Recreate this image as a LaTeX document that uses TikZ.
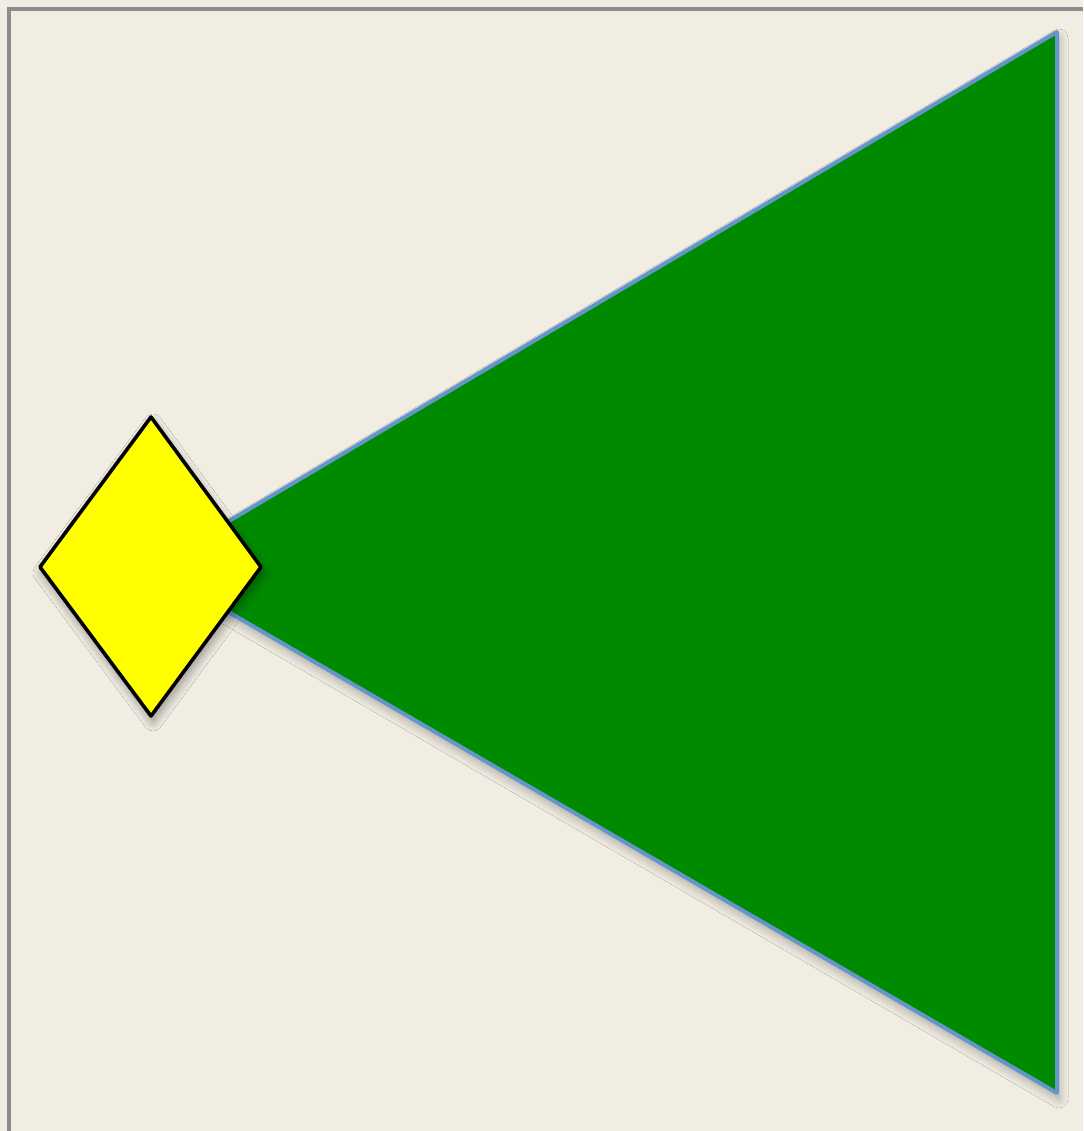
\documentclass[tikz,border=0pt]{standalone}
\usetikzlibrary{shadows.blur}
\definecolor{bg}{HTML}{F1EDE3}
\definecolor{frame}{HTML}{8C8C8C}
\definecolor{tri}{HTML}{008A00}
\definecolor{triedge}{HTML}{6496CC}
\definecolor{dia}{HTML}{FFFF00}
\tikzset{
  tristyle/.style={fill=tri, draw=triedge, line width=4pt, line join=round,
    blur shadow={shadow xshift=2pt, shadow yshift=-6pt, shadow blur steps=12, shadow opacity=30, shadow blur radius=9pt}},
  diastyle/.style={fill=dia, draw=black, line width=3.6pt, line join=round,
    blur shadow={shadow xshift=2pt, shadow yshift=-6pt, shadow blur steps=12, shadow opacity=40, shadow blur radius=9pt}}
}
\begin{document}
\begin{tikzpicture}[x=1pt,y=-1pt]
\fill[bg] (0,0) rectangle (1083,1131);
\useasboundingbox (0,0) rectangle (1083,1131);
\draw[frame, line width=3.2pt] (9,1131) -- (9,9) -- (1083,9);
\coordinate (apex) at (151,567);
\coordinate (ttop) at (1057,32);
\coordinate (tbot) at (1057,1093);
\path[tristyle] (apex) -- (ttop) -- (tbot) -- cycle;
\path[diastyle] (151,417) -- (261,567) -- (151,716) -- (40,567) -- cycle;
\end{tikzpicture}
\end{document}
